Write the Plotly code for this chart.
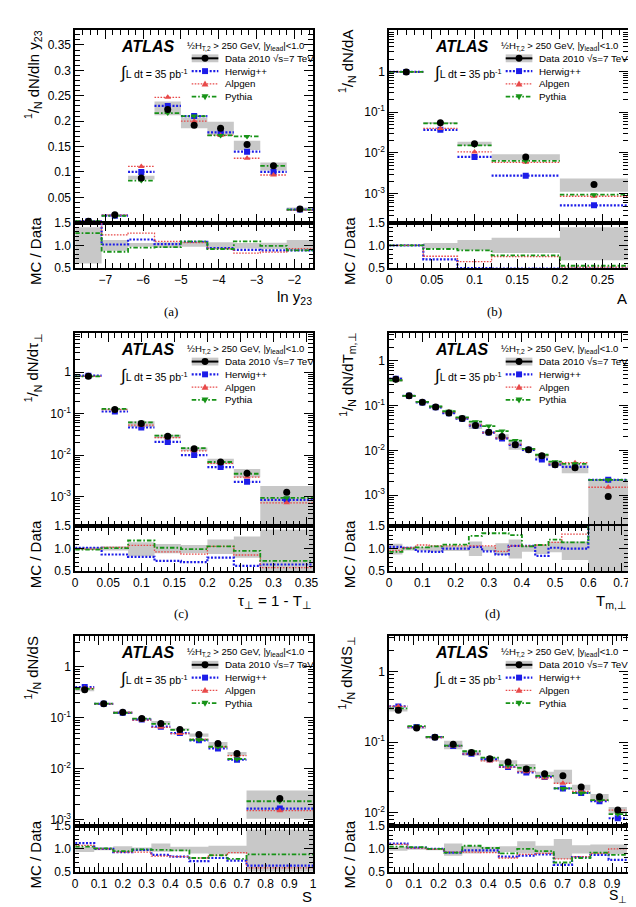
import plotly.graph_objects as go

W, H = 636, 907
FONT = "Liberation Sans, Arial, Helvetica, sans-serif"

# ---------------- (a) ln y23 ----------------
a_edges = [-7.8, -7.1, -6.4, -5.7, -5.0, -4.3, -3.6, -2.9, -2.2, -1.5]
a_data = [0.003, 0.0155, 0.088, 0.223, 0.192, 0.186, 0.154, 0.112, 0.027]
a_herwig = [0.003, 0.014, 0.100, 0.230, 0.210, 0.178, 0.140, 0.100, 0.026]
a_alpgen = [0.003, 0.015, 0.111, 0.247, 0.200, 0.172, 0.127, 0.094, 0.025]
a_pythia = [0.003, 0.0135, 0.083, 0.216, 0.210, 0.172, 0.170, 0.112, 0.026]
a_band_lo = [0.60, 0.88, 0.97, 0.95, 0.97, 0.93, 0.93, 0.92, 0.88]
a_band_hi = [1.40, 1.12, 1.05, 1.07, 1.08, 1.07, 1.05, 1.06, 1.12]
a_r_herwig = [1.70, 1.02, 1.13, 1.03, 1.08, 0.94, 0.90, 0.89, 0.89]
a_r_alpgen = [1.70, 1.23, 1.27, 1.09, 1.06, 0.93, 0.83, 0.85, 0.93]
a_r_pythia = [1.27, 0.86, 0.95, 0.96, 1.09, 0.92, 1.09, 0.99, 0.89]

# ---------------- (b) A ----------------
b_edges = [0.0, 0.04, 0.08, 0.12, 0.20, 0.28]
b_data = [0.97, 0.055, 0.0168, 0.0080, 0.00168]
b_herwig = [0.97, 0.037, 0.0080, 0.00278, 0.00052]
b_alpgen = [0.97, 0.040, 0.0106, 0.0059, 0.00087]
b_pythia = [0.97, 0.053, 0.0154, 0.0064, 0.00095]
b_band_lo = [0.99, 0.93, 0.89, 0.83, 0.67]
b_band_hi = [1.01, 1.05, 1.12, 1.17, 1.40]
b_r_herwig = [1.0, 0.69, 0.50, 0.49, 0.49]
b_r_alpgen = [1.0, 0.76, 0.64, 0.75, 0.52]
b_r_pythia = [1.0, 0.92, 0.89, 0.78, 0.55]

# ---------------- (c) tau_perp ----------------
c_edges = [0.0, 0.04, 0.08, 0.12, 0.16, 0.20, 0.24, 0.28, 0.36]
c_data = [0.80, 0.127, 0.058, 0.0285, 0.0143, 0.0069, 0.0037, 0.00129]
c_herwig = [0.82, 0.113, 0.0465, 0.0209, 0.0101, 0.0052, 0.0023, 0.00085]
c_alpgen = [0.79, 0.125, 0.053, 0.0265, 0.0128, 0.0064, 0.0030, 0.00072]
c_pythia = [0.79, 0.130, 0.062, 0.0296, 0.0148, 0.0069, 0.0036, 0.00095]
c_band_lo = [0.97, 0.96, 0.83, 0.90, 0.90, 0.88, 0.80, 0.15]
c_band_hi = [1.03, 1.05, 1.14, 1.10, 1.08, 1.20, 1.27, 1.42]
c_r_herwig = [1.02, 0.87, 0.82, 0.73, 0.70, 0.80, 0.62, 0.65]
c_r_alpgen = [0.99, 1.03, 1.07, 0.93, 0.88, 1.05, 0.86, 0.58]
c_r_pythia = [0.98, 1.01, 1.18, 1.02, 0.99, 1.05, 0.95, 0.73]

# ---------------- (d) T_m,perp ----------------
d_edges = [0.0, 0.04, 0.08, 0.12, 0.16, 0.20, 0.24, 0.28, 0.32, 0.36, 0.40,
           0.44, 0.48, 0.52, 0.60, 0.72]
d_data = [0.39, 0.166, 0.119, 0.094, 0.069, 0.052, 0.036, 0.0254, 0.0204,
          0.0133, 0.0103, 0.0076, 0.0048, 0.0041, 0.00093]
d_herwig = [0.40, 0.166, 0.118, 0.092, 0.068, 0.051, 0.036, 0.025, 0.0185,
            0.0133, 0.0103, 0.0063, 0.0048, 0.0043, 0.0022]
d_alpgen = [0.37, 0.166, 0.123, 0.094, 0.072, 0.053, 0.037, 0.025, 0.019,
            0.0136, 0.0106, 0.0078, 0.0050, 0.0053, 0.0015]
d_pythia = [0.37, 0.165, 0.122, 0.096, 0.075, 0.055, 0.044, 0.035, 0.027,
            0.0166, 0.0108, 0.0080, 0.0056, 0.0050, 0.0022]
d_band_lo = [0.87, 0.96, 0.96, 0.93, 0.95, 0.95, 0.84, 0.95, 0.86, 0.78,
             0.93, 0.88, 0.92, 0.75, 0.10]
d_band_hi = [1.11, 1.04, 1.04, 1.07, 1.07, 1.05, 1.16, 1.05, 1.12, 1.20,
             1.06, 1.08, 1.16, 1.16, 2.40]
d_r_herwig = [1.04, 1.02, 0.94, 0.93, 1.00, 1.00, 1.04, 0.94, 0.87, 1.06,
              1.06, 0.84, 1.02, 1.00, 2.40]
d_r_alpgen = [0.96, 1.02, 1.08, 1.06, 1.06, 1.06, 1.06, 1.06, 0.94, 1.06,
              1.06, 1.08, 1.14, 1.32, 1.60]
d_r_pythia = [0.93, 1.00, 1.03, 1.05, 1.09, 1.09, 1.28, 1.34, 1.34, 1.30,
              1.05, 1.08, 1.20, 1.14, 2.40]

# ---------------- (e) S ----------------
e_edges = [0.0, 0.08, 0.16, 0.24, 0.32, 0.40, 0.48, 0.56, 0.64, 0.72, 1.0]
e_data = [0.355, 0.188, 0.128, 0.0966, 0.0774, 0.059, 0.047, 0.0314, 0.0199, 0.0026]
e_herwig = [0.40, 0.188, 0.125, 0.092, 0.067, 0.050, 0.036, 0.025, 0.015, 0.00165]
e_alpgen = [0.38, 0.187, 0.127, 0.090, 0.065, 0.049, 0.038, 0.027, 0.018, 0.0015]
e_pythia = [0.37, 0.190, 0.125, 0.096, 0.076, 0.058, 0.037, 0.027, 0.0155, 0.0023]
e_band_lo = [0.93, 0.97, 0.93, 0.95, 0.94, 0.95, 0.90, 0.88, 0.90, 0.40]
e_band_hi = [1.05, 1.03, 1.06, 1.03, 1.12, 1.05, 1.05, 1.07, 1.07, 1.43]
e_r_herwig = [1.13, 1.00, 0.93, 0.98, 0.87, 0.83, 0.73, 0.80, 0.74, 0.63]
e_r_alpgen = [1.08, 1.00, 0.93, 0.93, 0.84, 0.83, 0.80, 0.86, 0.92, 0.58]
e_r_pythia = [1.05, 1.01, 0.95, 0.99, 0.98, 0.97, 0.80, 0.86, 0.78, 0.88]

# ---------------- (f) S_perp ----------------
f_edges = [0.0, 0.0738, 0.1477, 0.2215, 0.2954, 0.3692, 0.4431, 0.5169,
           0.5908, 0.6646, 0.7385, 0.8123, 0.8862, 0.96]
f_data = [0.283, 0.158, 0.117, 0.0927, 0.071, 0.058, 0.052, 0.0416, 0.0354,
          0.0332, 0.023, 0.0167, 0.0109]
f_herwig = [0.32, 0.163, 0.117, 0.088, 0.068, 0.057, 0.0443, 0.037, 0.032,
            0.022, 0.019, 0.0145, 0.0083]
f_alpgen = [0.32, 0.163, 0.116, 0.088, 0.068, 0.054, 0.044, 0.038, 0.031,
            0.026, 0.020, 0.015, 0.0108]
f_pythia = [0.30, 0.168, 0.118, 0.089, 0.074, 0.060, 0.047, 0.043, 0.033,
            0.022, 0.019, 0.015, 0.0095]
f_band_lo = [0.96, 0.98, 0.97, 0.85, 0.90, 0.92, 0.93, 0.90, 0.90, 0.78, 0.90, 0.88, 0.88]
f_band_hi = [1.05, 1.02, 1.02, 1.12, 1.07, 1.05, 1.06, 1.17, 1.07, 1.22, 1.08, 1.10, 1.10]
f_r_herwig = [1.12, 1.03, 1.00, 0.92, 0.97, 0.97, 0.83, 0.85, 0.88, 0.65, 0.82, 0.87, 0.76]
f_r_alpgen = [1.10, 1.02, 0.99, 0.93, 0.93, 0.92, 0.80, 0.88, 0.90, 0.78, 0.83, 0.90, 1.00]
f_r_pythia = [1.05, 1.04, 1.00, 0.92, 1.07, 1.02, 0.90, 1.00, 0.95, 0.70, 0.80, 0.92, 0.87]

mc_names = ["Herwig++", "Alpgen", "Pythia"]
legend_labels = ["Data 2010 √s=7 TeV", "Herwig++", "Alpgen", "Pythia"]

panels = [
    dict(edges=a_edges, data=a_data, mc=[a_herwig, a_alpgen, a_pythia],
         blo=a_band_lo, bhi=a_band_hi, ratio=[a_r_herwig, a_r_alpgen, a_r_pythia],
         px=(65, 306, 15, 211, 257), xrange=[-7.8, -1.5], xd=1, xm=0.2, log=False,
         yrange=[0, 0.38], ytitle="<sup>1</sup>/<sub>N</sub> dN/dln y<sub>23</sub>",
         xtitle="ln y<sub>23</sub>", xt_y=287, xt_size=15, label="(a)", label_xy=(162, 301)),
    dict(edges=b_edges, data=b_data, mc=[b_herwig, b_alpgen, b_pythia],
         blo=b_band_lo, bhi=b_band_hi, ratio=[b_r_herwig, b_r_alpgen, b_r_pythia],
         px=(383, 625, 15, 211, 257), xrange=[0, 0.28], xd=0.05, xm=0.01, log=True,
         yrange=[-3.71, 1.02], ytitle="<sup>1</sup>/<sub>N</sub> dN/dA",
         xtitle="A", xt_y=288, xt_size=15, label="(b)", label_xy=(490, 301)),
    dict(edges=c_edges, data=c_data, mc=[c_herwig, c_alpgen, c_pythia],
         blo=c_band_lo, bhi=c_band_hi, ratio=[c_r_herwig, c_r_alpgen, c_r_pythia],
         px=(65, 306, 323, 519, 565), xrange=[0, 0.36], xd=0.05, xm=0.01, log=True,
         yrange=[-3.70, 0.94], ytitle="<sup>1</sup>/<sub>N</sub> dN/dτ<sub>⊥</sub>",
         xtitle="τ<sub>⊥</sub> = 1 - T<sub>⊥</sub>", xt_y=596, xt_size=15, label="(c)",
         label_xy=(172, 608)),
    dict(edges=d_edges, data=d_data, mc=[d_herwig, d_alpgen, d_pythia],
         blo=d_band_lo, bhi=d_band_hi, ratio=[d_r_herwig, d_r_alpgen, d_r_pythia],
         px=(383, 625, 323, 519, 565), xrange=[0, 0.72], xd=0.1, xm=0.02, log=True,
         yrange=[-3.69, 0.625], ytitle="<sup>1</sup>/<sub>N</sub> dN/dT<sub>m,⊥</sub>",
         xtitle="T<sub>m,⊥</sub>", xt_y=596, xt_size=15, label="(d)", label_xy=(488, 608)),
    dict(edges=e_edges, data=e_data, mc=[e_herwig, e_alpgen, e_pythia],
         blo=e_band_lo, bhi=e_band_hi, ratio=[e_r_herwig, e_r_alpgen, e_r_pythia],
         px=(65, 306, 631, 824, 870), xrange=[0, 1.0], xd=0.1, xm=0.02, log=True,
         yrange=[-3.13, 0.60], ytitle="<sup>1</sup>/<sub>N</sub> dN/dS",
         xtitle="S", xt_y=895, xt_size=15, label=None, label_xy=None),
    dict(edges=f_edges, data=f_data, mc=[f_herwig, f_alpgen, f_pythia],
         blo=f_band_lo, bhi=f_band_hi, ratio=[f_r_herwig, f_r_alpgen, f_r_pythia],
         px=(383, 625, 631, 824, 870), xrange=[0, 0.965], xd=0.1, xm=0.02, log=True,
         yrange=[-2.195, 0.50], ytitle="<sup>1</sup>/<sub>N</sub> dN/dS<sub>⊥</sub>",
         xtitle="S<sub>⊥</sub>", xt_y=895, xt_size=14, label=None, label_xy=None),
]

BLUE = "#1c1ce8"
RED = "#e84a4a"
GREEN = "#179317"
GRAY = "#c8c8c8"
MC_STYLE = [
    dict(color=BLUE, dash="2px,1.6px", width=2.2, symbol="square", size=6),
    dict(color=RED, dash="1.6px,1.4px", width=1.3, symbol="triangle-up", size=6),
    dict(color=GREEN, dash="4.5px,2px,1.6px,2px", width=1.8, symbol="triangle-down", size=6),
]


def px_x(x):
    return x / W


def px_y(y):
    return 1 - y / H


fig = go.Figure()
layout = dict(width=W, height=H, margin=dict(l=0, r=0, t=0, b=0),
              paper_bgcolor="white", plot_bgcolor="white", showlegend=False,
              font=dict(family=FONT, size=12, color="black"))
annotations = []
shapes = []

for p, P in enumerate(panels):
    m, r = 2 * p + 1, 2 * p + 2
    xm_id = "x" if m == 1 else f"x{m}"
    ym_id = "y" if m == 1 else f"y{m}"
    xr_id, yr_id = f"x{r}", f"y{r}"
    edges = P["edges"]
    n = len(edges) - 1
    centers = [(edges[i] + edges[i + 1]) / 2 for i in range(n)]
    data = P["data"]

    # main plot gray band
    bx, by = [], []
    for i in range(n):
        lo, hi = data[i] * P["blo"][i], data[i] * P["bhi"][i]
        bx += [edges[i], edges[i + 1], edges[i + 1], edges[i], edges[i], None]
        by += [lo, lo, hi, hi, lo, None]
    fig.add_trace(go.Scatter(x=bx, y=by, mode="lines", fill="toself", fillcolor=GRAY,
                             line=dict(width=0, color=GRAY), hoverinfo="skip",
                             xaxis=xm_id, yaxis=ym_id))
    # MC segments + markers
    for k, vals in enumerate(P["mc"]):
        st = MC_STYLE[k]
        sx, sy = [], []
        for i in range(n):
            sx += [edges[i], edges[i + 1], None]
            sy += [vals[i], vals[i], None]
        fig.add_trace(go.Scatter(x=sx, y=sy, mode="lines",
                                 line=dict(color=st["color"], dash=st["dash"], width=st["width"]),
                                 hoverinfo="skip", xaxis=xm_id, yaxis=ym_id))
        fig.add_trace(go.Scatter(x=centers, y=vals, mode="markers", name=mc_names[k],
                                 marker=dict(color=st["color"], symbol=st["symbol"], size=st["size"]),
                                 xaxis=xm_id, yaxis=ym_id))
    # data markers
    fig.add_trace(go.Scatter(x=centers, y=data, mode="markers", name="Data",
                             marker=dict(color="black", symbol="circle", size=7),
                             xaxis=xm_id, yaxis=ym_id))

    # ratio gray band
    rbx, rby = [], []
    for i in range(n):
        lo, hi = P["blo"][i], P["bhi"][i]
        rbx += [edges[i], edges[i + 1], edges[i + 1], edges[i], edges[i], None]
        rby += [lo, lo, hi, hi, lo, None]
    fig.add_trace(go.Scatter(x=rbx, y=rby, mode="lines", fill="toself", fillcolor=GRAY,
                             line=dict(width=0, color=GRAY), hoverinfo="skip",
                             xaxis=xr_id, yaxis=yr_id))
    for k, vals in enumerate(P["ratio"]):
        st = MC_STYLE[k]
        fig.add_trace(go.Scatter(x=edges, y=list(vals) + [vals[-1]], mode="lines",
                                 line=dict(color=st["color"], dash=st["dash"], width=st["width"],
                                           shape="hv"),
                                 hoverinfo="skip", xaxis=xr_id, yaxis=yr_id))

    L, R, T, MB, RB = P["px"]
    xdom = [px_x(L), px_x(R)]
    common_x = dict(domain=xdom, range=P["xrange"], ticks="inside", ticklen=9, tickwidth=1,
                    tickcolor="black", mirror="allticks", showline=True, linecolor="black",
                    linewidth=1.5, showgrid=False, zeroline=False, dtick=P["xd"], tick0=0,
                    minor=dict(ticks="inside", ticklen=5, dtick=P["xm"], tick0=0,
                               tickcolor="black", showgrid=False),
                    tickfont=dict(family=FONT, size=12, color="black"))
    layout["xaxis" if m == 1 else f"xaxis{m}"] = dict(common_x, anchor=ym_id, showticklabels=False)
    layout[f"xaxis{r}"] = dict(common_x, anchor=yr_id, showticklabels=True, ticklabelstandoff=0)

    ymain = dict(domain=[px_y(MB), px_y(T)], anchor=xm_id, ticks="inside", ticklen=9,
                 tickcolor="black", mirror="allticks", showline=True, linecolor="black",
                 linewidth=1.5, showgrid=False, zeroline=False,
                 tickfont=dict(family=FONT, size=12, color="black"))
    if P["log"]:
        decades = [0, -1, -2, -3]
        tv, tt = [], []
        for d in decades:
            tv.append(10.0 ** d)
            tt.append("1" if d == 0 else f"10<sup>{d}</sup>")
        minors = []
        for d in range(-4, 2):
            for j in range(2, 10):
                minors.append(j * 10.0 ** d)
        ymain.update(type="log", range=P["yrange"], tickvals=tv, ticktext=tt,
                     minor=dict(ticks="inside", ticklen=5, tickvals=minors,
                                tickcolor="black", showgrid=False))
    else:
        tv = [0.05, 0.1, 0.15, 0.2, 0.25, 0.3, 0.35]
        ymain.update(range=P["yrange"], tickvals=tv,
                     ticktext=["0.05", "0.1", "0.15", "0.2", "0.25", "0.3", "0.35"],
                     minor=dict(ticks="inside", ticklen=5, dtick=0.01, tick0=0,
                                tickcolor="black", showgrid=False))
    layout["yaxis" if m == 1 else f"yaxis{m}"] = ymain
    layout[f"yaxis{r}"] = dict(domain=[px_y(RB), px_y(MB)], anchor=xr_id, range=[0.5, 1.5],
                               tickvals=[0.5, 1.0, 1.5], ticktext=["0.5", "1.0", "1.5"],
                               ticks="inside", ticklen=9, tickcolor="black", mirror="allticks",
                               showline=True, linecolor="black", linewidth=1.5, showgrid=False,
                               zeroline=False,
                               minor=dict(ticks="inside", ticklen=4, dtick=0.1, tick0=0,
                                          tickcolor="black", showgrid=False),
                               tickfont=dict(family=FONT, size=12, color="black"))

    # ---- texts ----
    ytx = 22 if L < 300 else 340
    annotations.append(dict(x=px_x(ytx), y=px_y(T - 2), xref="paper", yref="paper",
                            text=P["ytitle"], textangle=-90, showarrow=False,
                            xanchor="center", yanchor="top",
                            font=dict(family=FONT, size=15, color="black")))
    annotations.append(dict(x=px_x(ytx + 3), y=px_y((MB + RB) / 2 + 6), xref="paper",
                            yref="paper", text="MC / Data", textangle=-90, showarrow=False,
                            xanchor="center", yanchor="middle",
                            font=dict(family=FONT, size=15, color="black")))
    annotations.append(dict(x=px_x(R + 1), y=px_y(P["xt_y"]), xref="paper", yref="paper",
                            text=P["xtitle"], showarrow=False, xanchor="right",
                            yanchor="middle",
                            font=dict(family=FONT, size=P["xt_size"], color="black")))
    if P["label"]:
        lx, ly = P["label_xy"]
        annotations.append(dict(x=px_x(lx), y=px_y(ly), xref="paper", yref="paper",
                                text=P["label"], showarrow=False, xanchor="center",
                                yanchor="middle",
                                font=dict(family="Liberation Serif, serif", size=13,
                                          color="black")))
    annotations.append(dict(x=px_x(L + 44), y=px_y(T + 17), xref="paper", yref="paper",
                            text="<b><i>ATLAS</i></b>", showarrow=False, xanchor="left",
                            yanchor="middle", font=dict(family=FONT, size=16, color="black")))
    annotations.append(dict(x=px_x(L + 43), y=px_y(T + 43), xref="paper", yref="paper",
                            text="<span style='font-size:17px'>∫</span>L dt = 35 pb<sup>-1</sup>",
                            showarrow=False, xanchor="left", yanchor="middle",
                            font=dict(family=FONT, size=10.5, color="black")))
    annotations.append(dict(x=px_x(L + 111), y=px_y(T + 16), xref="paper", yref="paper",
                            text="½H<sub>T,2</sub> &gt; 250 GeV, |y<sub>lead</sub>|&lt;1.0",
                            showarrow=False, xanchor="left", yanchor="middle",
                            font=dict(family=FONT, size=9.5, color="black")))
    # legend
    x0, x1 = L + 118, L + 145
    xc = (x0 + x1) / 2
    rows = [T + 29, T + 42, T + 55, T + 68]
    shapes.append(dict(type="rect", xref="paper", yref="paper", x0=px_x(x0), x1=px_x(x1),
                       y0=px_y(rows[0] - 4), y1=px_y(rows[0] + 4), fillcolor=GRAY,
                       line=dict(width=0)))
    shapes.append(dict(type="line", xref="paper", yref="paper", x0=px_x(x0), x1=px_x(x1),
                       y0=px_y(rows[0]), y1=px_y(rows[0]), line=dict(color="black", width=2)))
    shapes.append(dict(type="circle", xref="paper", yref="paper", x0=px_x(xc - 3.5),
                       x1=px_x(xc + 3.5), y0=px_y(rows[0] - 3.5), y1=px_y(rows[0] + 3.5),
                       fillcolor="black", line=dict(width=0)))
    for k in range(3):
        st = MC_STYLE[k]
        yy = rows[k + 1]
        shapes.append(dict(type="line", xref="paper", yref="paper", x0=px_x(x0), x1=px_x(x1),
                           y0=px_y(yy), y1=px_y(yy),
                           line=dict(color=st["color"], width=st["width"], dash=st["dash"])))
        if k == 0:
            path = (f"M {px_x(xc-3)},{px_y(yy-3)} L {px_x(xc+3)},{px_y(yy-3)} "
                    f"L {px_x(xc+3)},{px_y(yy+3)} L {px_x(xc-3)},{px_y(yy+3)} Z")
        elif k == 1:
            path = (f"M {px_x(xc)},{px_y(yy-3.5)} L {px_x(xc+3.5)},{px_y(yy+2.5)} "
                    f"L {px_x(xc-3.5)},{px_y(yy+2.5)} Z")
        else:
            path = (f"M {px_x(xc)},{px_y(yy+3.5)} L {px_x(xc+3.5)},{px_y(yy-2.5)} "
                    f"L {px_x(xc-3.5)},{px_y(yy-2.5)} Z")
        shapes.append(dict(type="path", xref="paper", yref="paper", path=path,
                           fillcolor=st["color"], line=dict(width=0)))
    for k, lab in enumerate(legend_labels):
        annotations.append(dict(x=px_x(L + 150), y=px_y(rows[k]), xref="paper", yref="paper",
                                text=lab, showarrow=False, xanchor="left", yanchor="middle",
                                font=dict(family=FONT, size=9.8, color="black")))

layout["annotations"] = annotations
layout["shapes"] = shapes
fig.update_layout(**layout)
fig.write_html("out.html")
